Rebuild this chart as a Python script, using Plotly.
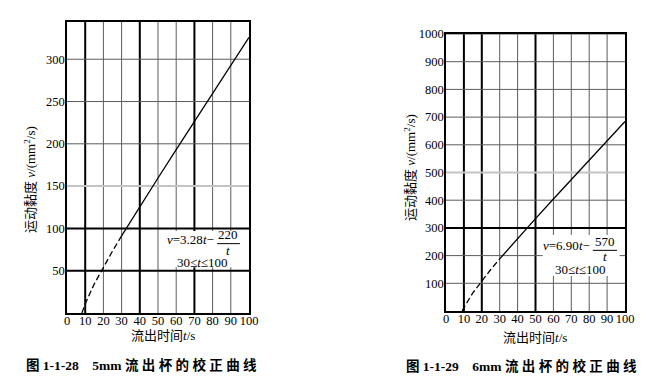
import plotly.graph_objects as go

W, H = 667, 383

# ---- data ----
left_t_dash = [8.2, 10, 15, 20, 25, 30]
left_v_dash = [0, 10.8, 34.5, 54.6, 73.2, 91.1]
left_t_solid = [30, 40, 50, 60, 70, 80, 90, 100]
left_v_solid = [91.1, 125.7, 159.6, 193.1, 226.5, 259.7, 292.8, 325.8]

right_t_dash = [9.1, 10, 15, 20, 25, 30]
right_v_dash = [0, 12.0, 65.5, 109.5, 149.7, 188.0]
right_t_solid = [30, 40, 50, 60, 70, 80, 90, 100]
right_v_solid = [188.0, 261.8, 333.6, 404.5, 474.9, 544.9, 614.7, 684.3]

x_ticks = [0, 10, 20, 30, 40, 50, 60, 70, 80, 90, 100]
x_tick_labels = [str(v) for v in x_ticks]
left_y_ticks = [50, 100, 150, 200, 250, 300]
right_y_ticks = [100, 200, 300, 400, 500, 600, 700, 800, 900, 1000]

x_title = "流出时间<i>t</i>/s"
y_title = "运动黏度 <i>ν</i>/(mm<sup>2</sup>/s)"
left_caption = "<b>图 1-1-28    5mm 流 出 杯 的 校 正 曲 线</b>"
right_caption = "<b>图 1-1-29    6mm 流 出 杯 的 校 正 曲 线</b>"

SERIF = "Liberation Serif, Noto Sans CJK SC, serif"


def px(x):
    return x / W


def py(y):
    return 1 - y / H


fig = go.Figure()
line_style = dict(color="black", width=1.3)
fig.add_trace(go.Scatter(x=left_t_dash, y=left_v_dash, mode="lines",
                         line=dict(line_style, dash="6px,3px"), xaxis="x", yaxis="y"))
fig.add_trace(go.Scatter(x=left_t_solid, y=left_v_solid, mode="lines",
                         line=line_style, xaxis="x", yaxis="y"))
fig.add_trace(go.Scatter(x=right_t_dash, y=right_v_dash, mode="lines",
                         line=dict(line_style, dash="6px,3px"), xaxis="x2", yaxis="y2"))
fig.add_trace(go.Scatter(x=right_t_solid, y=right_v_solid, mode="lines",
                         line=line_style, xaxis="x2", yaxis="y2"))

axis_common = dict(showgrid=False, showline=True, automargin=False,
                   mirror=True, linecolor="black", linewidth=1.5, ticks="",
                   zeroline=False, fixedrange=True,
                   tickfont=dict(family=SERIF, size=12.5, color="black"))

fig.update_layout(
    width=W, height=H, margin=dict(l=0, r=0, t=0, b=0, autoexpand=False),
    paper_bgcolor="white", plot_bgcolor="white", showlegend=False,
    xaxis=dict(axis_common, domain=[px(67), px(249)], range=[0, 100],
               tickvals=x_ticks, ticktext=x_tick_labels, anchor="y",
               ticklabelstandoff=-5),
    yaxis=dict(axis_common, domain=[py(313), py(22)], range=[0, 344],
               tickvals=left_y_ticks, anchor="x", ticklabelstandoff=-2),
    xaxis2=dict(axis_common, domain=[px(446), px(625)], range=[0, 100],
                tickvals=x_ticks, ticktext=x_tick_labels, anchor="y2",
                ticklabelstandoff=-5),
    yaxis2=dict(axis_common, domain=[py(311), py(34)], range=[0, 1000],
                tickvals=right_y_ticks, anchor="x2", ticklabelstandoff=-2),
)

shapes = []
# grid lines (drawn under the curves), with the heavier / lighter lines of the scan
for xa, ya, yt, vx, hy, light in [("x", "y", left_y_ticks, [10, 40, 70], [50, 100], 150),
                                  ("x2", "y2", right_y_ticks, [10, 20, 50], [300], 500)]:
    for v in x_ticks[1:-1]:
        heavy = v in vx
        shapes.append(dict(type="line", xref=xa, yref=ya + " domain", x0=v, x1=v, y0=0, y1=1,
                           line=dict(color="black" if heavy else "#5c5c5c",
                                     width=2 if heavy else 1), layer="below"))
    for v in yt:
        if v == light:
            col, wd = "#c4c4c4", 2
        elif v in hy:
            col, wd = "black", 2
        else:
            col, wd = "#5c5c5c", 1
        shapes.append(dict(type="line", xref=xa + " domain", yref=ya, x0=0, x1=1, y0=v, y1=v,
                           line=dict(color=col, width=wd), layer="below"))

# white boxes behind the formulas
shapes.append(dict(type="rect", xref="x", yref="y", x0=52, x1=97, y0=54, y1=97,
                   fillcolor="white", line=dict(width=0), layer="above"))
shapes.append(dict(type="rect", xref="x2", yref="y2", x0=54, x1=97, y0=126, y1=274,
                   fillcolor="white", line=dict(width=0), layer="above"))
# fraction bars
shapes.append(dict(type="line", xref="x", yref="y", x0=82.5, x1=95, y0=82, y1=82,
                   line=dict(color="black", width=1), layer="above"))
shapes.append(dict(type="line", xref="x2", yref="y2", x0=82, x1=95.5, y0=219, y1=219,
                   line=dict(color="black", width=1), layer="above"))
fig.update_layout(shapes=shapes)

fnt = dict(family=SERIF, size=13, color="black")
ann = []
# left formula
ann.append(dict(xref="x", yref="y", x=82, y=87, xanchor="right", yanchor="middle",
                text="<i>ν</i>=3.28<i>t</i>−", showarrow=False, font=fnt))
ann.append(dict(xref="x", yref="y", x=88.7, y=92.5, xanchor="center", yanchor="middle",
                text="220", showarrow=False, font=fnt, borderpad=0))
ann.append(dict(xref="x", yref="y", x=88.7, y=73.5, xanchor="center", yanchor="middle",
                text="<i>t</i>", showarrow=False, font=fnt, borderpad=0))
ann.append(dict(xref="x", yref="y", x=74, y=60, xanchor="center", yanchor="middle",
                text="30≤<i>t</i>≤100", showarrow=False, font=fnt))
# right formula
ann.append(dict(xref="x2", yref="y2", x=81.5, y=237, xanchor="right", yanchor="middle",
                text="<i>ν</i>=6.90<i>t</i>−", showarrow=False, font=fnt))
ann.append(dict(xref="x2", yref="y2", x=88.8, y=252, xanchor="center", yanchor="middle",
                text="570", showarrow=False, font=fnt, borderpad=0))
ann.append(dict(xref="x2", yref="y2", x=88.8, y=198, xanchor="center", yanchor="middle",
                text="<i>t</i>", showarrow=False, font=fnt, borderpad=0))
ann.append(dict(xref="x2", yref="y2", x=75, y=150, xanchor="center", yanchor="middle",
                text="30≤<i>t</i>≤100", showarrow=False, font=fnt))
# axis titles
for cx, cy in [(163, 335), (535, 337)]:
    ann.append(dict(xref="paper", yref="paper", x=px(cx), y=py(cy), xanchor="center",
                    yanchor="middle", text=x_title, showarrow=False, font=fnt))
for cx, cy in [(30, 180), (410, 168)]:
    ann.append(dict(xref="paper", yref="paper", x=px(cx), y=py(cy), xanchor="center",
                    yanchor="middle", text=y_title, textangle=-90, showarrow=False, font=fnt))
# captions
capfnt = dict(family=SERIF, size=13.5, color="black")
ann.append(dict(xref="paper", yref="paper", x=px(141), y=py(365), xanchor="center",
                yanchor="middle", text=left_caption, showarrow=False, font=capfnt))
ann.append(dict(xref="paper", yref="paper", x=px(521), y=py(366), xanchor="center",
                yanchor="middle", text=right_caption, showarrow=False, font=capfnt))
fig.update_layout(annotations=ann)

fig.write_html("out.html", config={"displayModeBar": False},
               post_script="document.body.style.margin='0';")
